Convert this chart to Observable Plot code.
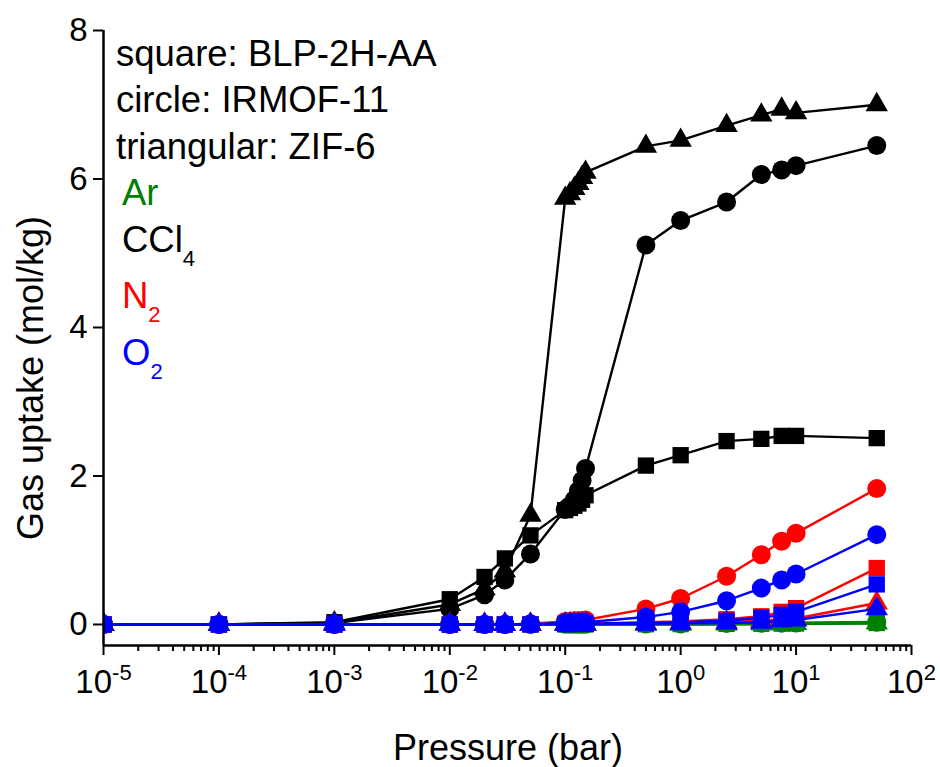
<!DOCTYPE html>
<html>
<head>
<meta charset="utf-8">
<script src="https://cdn.jsdelivr.net/npm/d3@7"></script>
<script src="https://cdn.jsdelivr.net/npm/@observablehq/plot@0.6"></script>
<style>
  html, body { margin: 0; padding: 0; background: #fff; }
  #chart { width: 940px; height: 767px; }
</style>
</head>
<body>
<div id="chart"></div>
<script>
// Pressure points (bar)
const pressure = [1e-5, 1e-4, 1e-3, 0.01, 0.02, 0.03, 0.05, 0.1, 0.11, 0.12, 0.13, 0.14, 0.15, 0.5, 1, 2.5, 5, 7.5, 10, 50];

// CCl4
const ccl4Square   = [0, 0, 0.03, 0.34, 0.64, 0.89, 1.20, 1.54, 1.57, 1.60, 1.63, 1.68, 1.74, 2.14, 2.28, 2.47, 2.50, 2.54, 2.54, 2.51];
const ccl4Circle   = [0, 0, 0.02, 0.21, 0.40, 0.60, 0.95, 1.55, 1.60, 1.68, 1.80, 1.94, 2.10, 5.11, 5.44, 5.69, 6.06, 6.12, 6.18, 6.45];
const ccl4Triangle = [0, 0, 0.02, 0.27, 0.48, 0.72, 1.47, 5.74, 5.80, 5.87, 5.94, 6.02, 6.09, 6.44, 6.52, 6.72, 6.86, 6.94, 6.89, 7.00];

// Ar
const arSquare   = [0, 0, 0, 0, 0, 0, 0, 0, 0, 0, 0, 0, 0, 0.003, 0.005, 0.008, 0.010, 0.012, 0.013, 0.02];
const arCircle   = [0, 0, 0, 0, 0, 0, 0, 0.002, 0.002, 0.002, 0.002, 0.002, 0.002, 0.005, 0.008, 0.012, 0.016, 0.018, 0.020, 0.03];
const arTriangle = [0, 0, 0, 0, 0, 0, 0, 0, 0, 0, 0, 0, 0, 0.002, 0.004, 0.006, 0.008, 0.010, 0.011, 0.02];

// N2
const n2Square   = [0, 0, 0, 0, 0, 0, 0.003, 0.01, 0.01, 0.01, 0.01, 0.012, 0.012, 0.03, 0.04, 0.07, 0.11, 0.17, 0.22, 0.76];
const n2Circle   = [0, 0, 0, 0, 0, 0, 0.01, 0.04, 0.045, 0.05, 0.05, 0.055, 0.06, 0.21, 0.35, 0.65, 0.94, 1.12, 1.23, 1.83];
const n2Triangle = [0, 0, 0, 0, 0, 0, 0.002, 0.005, 0.005, 0.005, 0.006, 0.006, 0.006, 0.015, 0.02, 0.03, 0.05, 0.07, 0.08, 0.29];

// O2
const o2Square   = [0, 0, 0, 0, 0, 0, 0.002, 0.007, 0.007, 0.008, 0.008, 0.008, 0.009, 0.02, 0.03, 0.05, 0.09, 0.13, 0.17, 0.54];
const o2Circle   = [0, 0, 0, 0, 0, 0, 0.005, 0.02, 0.02, 0.025, 0.025, 0.03, 0.03, 0.10, 0.17, 0.32, 0.49, 0.60, 0.68, 1.21];
const o2Triangle = [0, 0, 0, 0, 0, 0, 0.001, 0.004, 0.004, 0.004, 0.005, 0.005, 0.005, 0.01, 0.015, 0.02, 0.03, 0.05, 0.06, 0.21];

const xTicks = [1e-5, 1e-4, 1e-3, 1e-2, 1e-1, 1, 10, 100];
const yTicks = [0, 2, 4, 6, 8];
const legendLines = ["square: BLP-2H-AA", "circle: IRMOF-11", "triangular: ZIF-6"];

const toRows = vals => pressure.map((p, i) => ({p, v: vals[i]}));
const minorTicks = [];
for (let e = -5; e < 2; e++) for (let k = 2; k <= 9; k++) minorTicks.push(k * Math.pow(10, e));

const groups = [
  {color: "#000000", sets: [[ccl4Square, "square"], [ccl4Circle, "circle"], [ccl4Triangle, "triangle"]]},
  {color: "#008000", sets: [[arSquare, "square"], [arCircle, "circle"], [arTriangle, "triangle"]]},
  {color: "#ff0000", sets: [[n2Square, "square"], [n2Circle, "circle"], [n2Triangle, "triangle"]]},
  {color: "#0000ff", sets: [[o2Square, "square"], [o2Circle, "circle"], [o2Triangle, "triangle"]]}
];
const rFor = {square: 9.2, circle: 9.5, triangle: 8.3};

const seriesMarks = [];
for (const g of groups) {
  for (const [vals, sym] of g.sets) {
    const rows = toRows(vals);
    seriesMarks.push(Plot.line(rows, {x: "p", y: "v", stroke: g.color, strokeWidth: g.color === "#008000" ? 3 : 2.4, clip: true}));
    seriesMarks.push(Plot.dot(rows, {x: "p", y: "v", symbol: sym, r: rFor[sym], fill: g.color, stroke: "none", clip: true}));
  }
}

const chart = Plot.plot({
  width: 940,
  height: 767,
  marginLeft: 103,
  marginRight: 29,
  marginTop: 30,
  marginBottom: 122,
  style: {fontFamily: "'Liberation Sans', Arial, sans-serif", fontSize: "33px", color: "#000", background: "#fff", overflow: "visible"},
  x: {type: "log", domain: [1e-5, 100]},
  y: {domain: [-0.283, 8]},
  marks: [
    ...seriesMarks,
    Plot.ruleX([1e-5], {stroke: "#000", strokeWidth: 2.5}),
    Plot.ruleY([-0.283], {stroke: "#000", strokeWidth: 2.5}),
    Plot.axisY({ticks: yTicks, tickSize: 10, tickPadding: 6, strokeWidth: 2, label: null}),
    Plot.axisX({ticks: minorTicks, tickSize: 6, strokeWidth: 2, tickFormat: () => "", label: null}),
    Plot.axisX({ticks: xTicks, tickSize: 10, tickPadding: 14, strokeWidth: 2, label: null,
      tickFormat: d => "10^" + Math.round(Math.log10(d))})
  ]
});

document.getElementById("chart").appendChild(chart);
const svg = d3.select(chart);
svg.selectAll('g[aria-label$="tick label"]').attr("font-size", 33);

// superscript tick labels
svg.selectAll('g[aria-label="x-axis tick label"] text').each(function() {
  const t = d3.select(this);
  const s = t.text();
  if (!s.includes("^")) return;
  const exp = s.split("^")[1];
  t.text(null);
  t.append("tspan").text("10");
  t.append("tspan").attr("dy", "-13").attr("font-size", "22px").text(exp);
});

const font = "'Liberation Sans', Arial, sans-serif";
// axis titles
svg.append("text").attr("x", 508).attr("y", 760).attr("text-anchor", "middle")
  .attr("font-family", font).attr("font-size", 36).attr("fill", "#000").text("Pressure (bar)");
svg.append("text").attr("transform", "translate(43,378) rotate(-90)").attr("text-anchor", "middle")
  .attr("font-family", font).attr("font-size", 36).attr("fill", "#000").text("Gas uptake (mol/kg)");

// legend
const lg = svg.append("g").attr("font-family", font).attr("font-size", 36.5).attr("text-anchor", "start");
const base = [66, 112, 159];
legendLines.forEach((s, i) => lg.append("text").attr("x", 116).attr("y", base[i]).attr("text-anchor", "start").attr("fill", "#000").text(s));
const gasLabels = [
  {main: "Ar", sub: "", color: "#008000", y: 205},
  {main: "CCl", sub: "4", color: "#000000", y: 252},
  {main: "N", sub: "2", color: "#ff0000", y: 308},
  {main: "O", sub: "2", color: "#0000ff", y: 365}
];
gasLabels.forEach(g => {
  const t = lg.append("text").attr("x", 122).attr("y", g.y).attr("text-anchor", "start").attr("fill", g.color);
  t.append("tspan").text(g.main);
  if (g.sub) t.append("tspan").attr("dy", "14").attr("font-size", "22px").text(g.sub);
});
</script>
</body>
</html>
